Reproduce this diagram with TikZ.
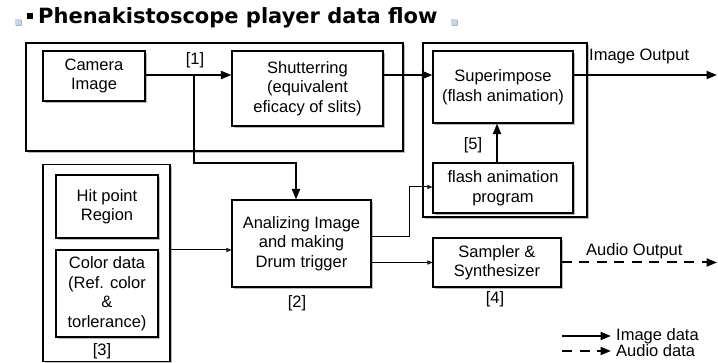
\documentclass[tikz,border=0pt]{standalone}
\usepackage{fontspec}
\setmainfont{Liberation Sans}
\newfontfamily\titlefont{DejaVu Sans}
\usetikzlibrary{arrows.meta}
\usetikzlibrary{shadows}
\definecolor{markblue}{RGB}{196,214,236}
\tikzset{box/.style={draw, line width=1.1pt, fill=white, inner sep=0pt, align=center,
    drop shadow={shadow xshift=1.8pt, shadow yshift=-1.8pt, fill=black!45, opacity=.6}}}
\tikzset{corner/.style={fill=markblue, minimum size=6pt, inner sep=0pt,
    drop shadow={shadow xshift=1pt, shadow yshift=-1pt, fill=black!50, opacity=.6}}}
\tikzset{imgflow/.style={line width=2pt, -{Triangle[length=10.5pt,width=8pt]}}}
\tikzset{audflow/.style={imgflow, dash pattern=on 10pt off 7.5pt}}
\tikzset{ctlflow/.style={line width=1pt, -{Triangle[open,length=5pt,width=4pt]}}}
\tikzset{numtag/.style={inner sep=0pt}}

\begin{document}
\begin{tikzpicture}[x=1pt,y=-1pt,font=\fontsize{16.5}{19.5}\selectfont]
  \useasboundingbox (0,0) rectangle (718,363);

  % title line
  \node[corner] (markL) at (18,22) {};
  \node[fill=black, minimum size=6pt, inner sep=0pt] (bullet) at (30,16) {};
  \node[numtag, anchor=base west, font=\titlefont\bfseries\fontsize{21}{24}\selectfont]
    (title) at (38,24) {Phenakistoscope player data flow};
  \node[corner] (markR) at (454,22) {};

  % group frames
  \foreach \x/\y/\w/\h/\lab in {
    214.5/97/377/108/camgrp,
    505/130/164/174/flashgrp,
    106.5/263/127/197/hitgrp%
  } {
    \node[box, minimum width=\w pt, minimum height=\h pt] (\lab) at (\x, \y) {};
  }

  % blocks
  \foreach \x/\y/\w/\h/\lab/\txt in {
    94/76/102/50/cam/{Camera\\Image},
    307.5/88.5/151/75/shutter/{Shutterring\\(equivalent\\eficacy of slits)},
    503/87/140/72/super/{Superimpose\\(flash animation)},
    503/188/140/50/flash/{flash animation\\program},
    107/206.5/102/63/hit/{Hit point\\Region},
    107/293.5/102/87/color/{Color data\\(Ref. color\\\&\\torlerance)},
    301.5/243.5/139/87/ana/{Analizing Image\\and making\\Drum trigger},
    497/262.5/128/49/sampler/{Sampler \&\\Synthesizer}%
  } {
    \node[box, minimum width=\w pt, minimum height=\h pt] (\lab) at (\x, \y) {\txt};
  }

  % step numbers
  \foreach \x/\y/\lab/\txt in {
    195/60/n1/[1],
    297/303/n2/[2],
    102/351/n3/[3],
    495/299/n4/[4],
    473/145/n5/[5]%
  } {
    \node[numtag] (\lab) at (\x, \y) {\txt};
  }

  \coordinate (imgout) at (717,75);
  \coordinate (br) at (194,75);
  \coordinate (bend) at (296,163);
  \coordinate (jog) at (409,187);
  \coordinate (audout) at (717,262.5);

  % image data
  \draw[imgflow] (cam.east |- imgout) -- (shutter.west |- imgout);
  \draw[imgflow] (br) |- (bend) -- (bend |- ana.north);
  \draw[imgflow] (shutter.east |- imgout) -- (super.west |- imgout);
  \draw[imgflow] (super.east |- imgout) -- (imgout);
  \draw[imgflow] ([xshift=-6pt]flash.north) -- ([xshift=-6pt]super.south);

  % control
  \draw[ctlflow] (hitgrp.east |- 0,250) -- (ana.west |- 0,250);
  \draw[ctlflow] (ana.east |- 0,237) -| (jog) -- (jog -| flash.west);
  \draw[ctlflow] (ana.east |- sampler.west) -- (sampler.west);

  % audio data
  \draw[audflow] (sampler.east) -- (audout);

  \node[numtag, anchor=west] (imglab) at (589,56) {Image Output};
  \node[numtag, anchor=west] (audlab) at (586,251) {Audio Output};

  % legend
  \coordinate (keyimgA) at (562,336);
  \coordinate (keyimgB) at (611,336);
  \coordinate (keyaudA) at (562,351);
  \coordinate (keyaudB) at (611,351);
  \draw[imgflow] (keyimgA) -- (keyimgB);
  \draw[audflow] (keyaudA) -- (keyaudB);
  \node[numtag, anchor=west] (keyimg) at (616,336) {Image data};
  \node[numtag, anchor=west] (keyaud) at (616,351) {Audio data};
\end{tikzpicture}
\end{document}
